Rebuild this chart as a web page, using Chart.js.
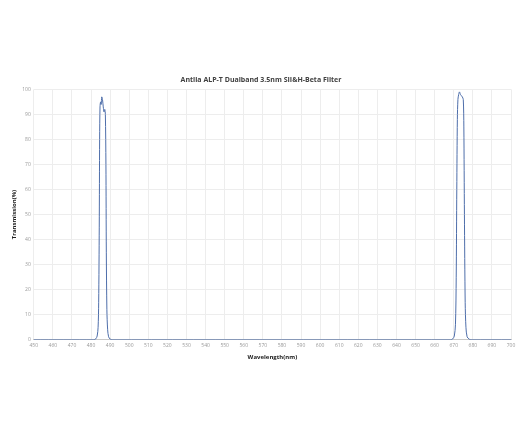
<!DOCTYPE html>
<html>
<head>
<meta charset="utf-8">
<script src="https://cdn.jsdelivr.net/npm/chart.js@4.4.1/dist/chart.umd.min.js"></script>
<style>
  html, body { margin: 0; padding: 0; background: #fff; }
  #wrap { width: 520px; height: 433px; }
</style>
</head>
<body>
<div id="wrap"><canvas id="filterChart"></canvas></div>
<script>
// ========= DATA =================== //
let wavelength = [
  450, 481.5, 482.5, 483.2, 483.7, 484, 484.3, 484.5, 484.7, 485, 485.3, 485.6, 486,
  486.4, 486.8, 487.2, 487.5, 487.8, 488, 488.3, 488.7, 489.2, 490, 491,
  668.5, 669.5, 670.3, 670.9, 671.3, 671.6, 671.9, 672.2, 672.6, 673, 673.5, 674,
  674.5, 675, 675.3, 675.6, 676, 676.4, 677, 678, 679, 700,
];
let transmission = [
  0, 0, 0.4, 1.5, 5, 15, 45, 80, 93, 95, 94, 97, 96,
  93, 91, 92, 90, 70, 35, 12, 4, 1.2, 0.3, 0,
  0, 0.4, 1.5, 6, 25, 60, 88, 96, 98, 99, 98, 97.5,
  97, 96, 85, 50, 15, 5, 1.2, 0.3, 0, 0,
];
let xTicks = { min: 450, max: 700, step: 10 };
let yTicks = { min: 0, max: 100, step: 10 };

let points = wavelength.map((w, i) => ({ x: w, y: transmission[i] }));

// ========= CHART =================== //
let ctx = document.getElementById("filterChart").getContext("2d");

let filterChart = new Chart(ctx, {
  type: "line",
  data: {
    datasets: [
      {
        data: points,
        borderColor: "rgba(78, 110, 170, 1)",
        borderWidth: 1,
        pointRadius: 0,
        tension: 0.3,
        fill: false,
      },
    ],
  },
  options: {
    responsive: true,
    maintainAspectRatio: false,
    animation: false,
    layout: {
      padding: { top: 76, bottom: 72, left: 11, right: 9 },
    },
    plugins: {
      legend: { display: false },
      tooltip: { enabled: false },
      title: {
        display: true,
        text: "Antlia ALP-T Dualband 3.5nm SII&H-Beta Filter",
        color: "#404040",
        font: { family: "Open Sans", size: 7, weight: "bold" },
        padding: { top: 0, bottom: 5 },
      },
    },
    scales: {
      x: {
        type: "linear",
        min: xTicks.min,
        max: xTicks.max,
        ticks: {
          stepSize: xTicks.step,
          color: "#999999",
          font: { family: "Open Sans", size: 5 },
          padding: 3,
          maxRotation: 0,
          autoSkip: false,
        },
        grid: { color: "#ededed", drawTicks: false },
        border: { color: "#c8c8c8" },
        title: {
          display: true,
          text: "Wavelength(nm)",
          color: "#202020",
          font: { family: "Open Sans", size: 6, weight: "bold" },
          padding: { top: 2, bottom: 0 },
        },
      },
      y: {
        min: yTicks.min,
        max: yTicks.max,
        ticks: {
          stepSize: yTicks.step,
          color: "#999999",
          font: { family: "Open Sans", size: 5 },
          padding: 3,
        },
        grid: { color: "#ededed", drawTicks: false },
        border: { display: false },
        title: {
          display: true,
          text: "Transmission(%)",
          color: "#202020",
          font: { family: "Open Sans", size: 6, weight: "bold" },
          padding: { top: 0, bottom: 1 },
        },
      },
    },
  },
});
</script>
</body>
</html>
